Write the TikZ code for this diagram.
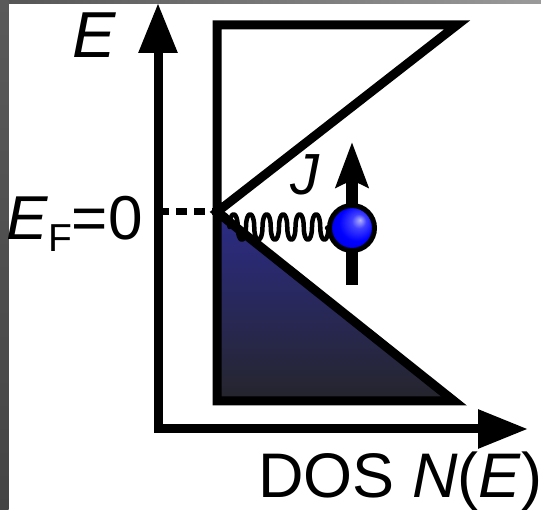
\documentclass[tikz,border=0pt]{standalone}
\usepackage{fontspec}
\setmainfont{Liberation Sans}
\usetikzlibrary{arrows.meta,shadings}
\definecolor{navytop}{HTML}{2B2B88}
\definecolor{navybot}{HTML}{25252C}
\definecolor{stripA}{HTML}{555555}
\definecolor{stripB}{HTML}{9A9A9A}
\definecolor{stripC}{HTML}{5A5A5A}
\definecolor{stripD}{HTML}{444444}
\pgfdeclareradialshading{spinball}{\pgfpoint{9bp}{9bp}}{color(0bp)=(blue!30!white); color(8bp)=(blue!75!white); color(20bp)=(blue); color(34bp)=(blue!88!black); color(50bp)=(blue!80!black)}
\tikzset{
  axisline/.style={line width=9pt, line join=miter, arrows={Triangle[length=50pt,width=37pt]-Triangle[length=50pt,width=37pt]}},
  bandline/.style={line width=9pt, line join=miter},
  wave/.style={line width=4.5pt, line join=round, line cap=round},
  lbl/.style={inner sep=0pt, anchor=base west},
}
\begin{document}
\begin{tikzpicture}[x=1pt,y=-1pt]
\fill[white] (0,0) rectangle (541,510);
\useasboundingbox (0,0) rectangle (541,510);
% frame strips
\shade[left color=stripA, right color=stripB] (0,0) rectangle (541,3.5);
\shade[top color=stripC, bottom color=stripD] (0,0) rectangle (8.5,510);
% coordinates
\coordinate (O) at (158,429);
\coordinate (Etip) at (158,3);
\coordinate (Ntip) at (528,429);
\coordinate (F) at (217,212);
\coordinate (FA) at (158,212);
\coordinate (TL) at (217,25);
\coordinate (TR) at (457,25);
\coordinate (BR) at (454,401);
\coordinate (BL) at (217,401);
\coordinate (sb) at (352,285);
\coordinate (st) at (352,142);
\coordinate (cs) at (229.5,227);
% filled states
\shade[top color=navytop, bottom color=navybot] (F) -- (BR) -- (BL) -- cycle;
% band outline
\draw[bandline] (TL) -- (TR) -- (F) -- (BR) -- (BL) -- cycle;
% axes
\draw[axisline] (Etip) -- (O) -- (Ntip);
% Fermi level dashed
\draw[line width=7pt, dash pattern=on 11pt off 7pt] (FA) -- (F);
% spin
\draw[line width=12pt, -{Stealth[length=45pt,width=32pt,inset=7pt]}] (sb) -- (st);
\node[circle, draw, line width=5pt, minimum size=45pt, inner sep=0pt, shading=spinball] (ball) at (352,228) {};
% coupling
\draw[wave] (F) .. controls (225,212) and (229.5,217) .. (cs)
  .. controls +(0,-17) and +(0,-17) .. ++(8.25,0) .. controls +(0,17) and +(0,17) .. ++(8.25,0)
  .. controls +(0,-17) and +(0,-17) .. ++(8.25,0) .. controls +(0,17) and +(0,17) .. ++(8.25,0)
  .. controls +(0,-17) and +(0,-17) .. ++(8.25,0) .. controls +(0,17) and +(0,17) .. ++(8.25,0)
  .. controls +(0,-17) and +(0,-17) .. ++(8.25,0) .. controls +(0,17) and +(0,17) .. ++(8.25,0)
  .. controls +(0,-17) and +(0,-17) .. ++(8.25,0) .. controls +(0,17) and +(0,17) .. ++(8.25,0)
  .. controls +(0,-17) and +(0,-17) .. ++(8.25,0) .. controls +(0,17) and +(0,17) .. ++(8.25,0)
  -- (ball.west);
% labels
\node[lbl, font=\fontsize{65pt}{70pt}\selectfont] (Elab) at (72,58) {\textit{E}};
\node[lbl, font=\fontsize{62pt}{70pt}\selectfont] (EFlab) at (6,240) {\textit{E}\raisebox{-12pt}{\fontsize{39pt}{40pt}\selectfont F}=0};
\node[lbl, font=\fontsize{63pt}{70pt}\selectfont] (Nlab) at (258,497) {DOS \textit{N}(\textit{E})};
\node[lbl, font=\fontsize{58pt}{60pt}\selectfont] (Jlab) at (290,195) {\textit{J}};
\end{tikzpicture}
\end{document}
